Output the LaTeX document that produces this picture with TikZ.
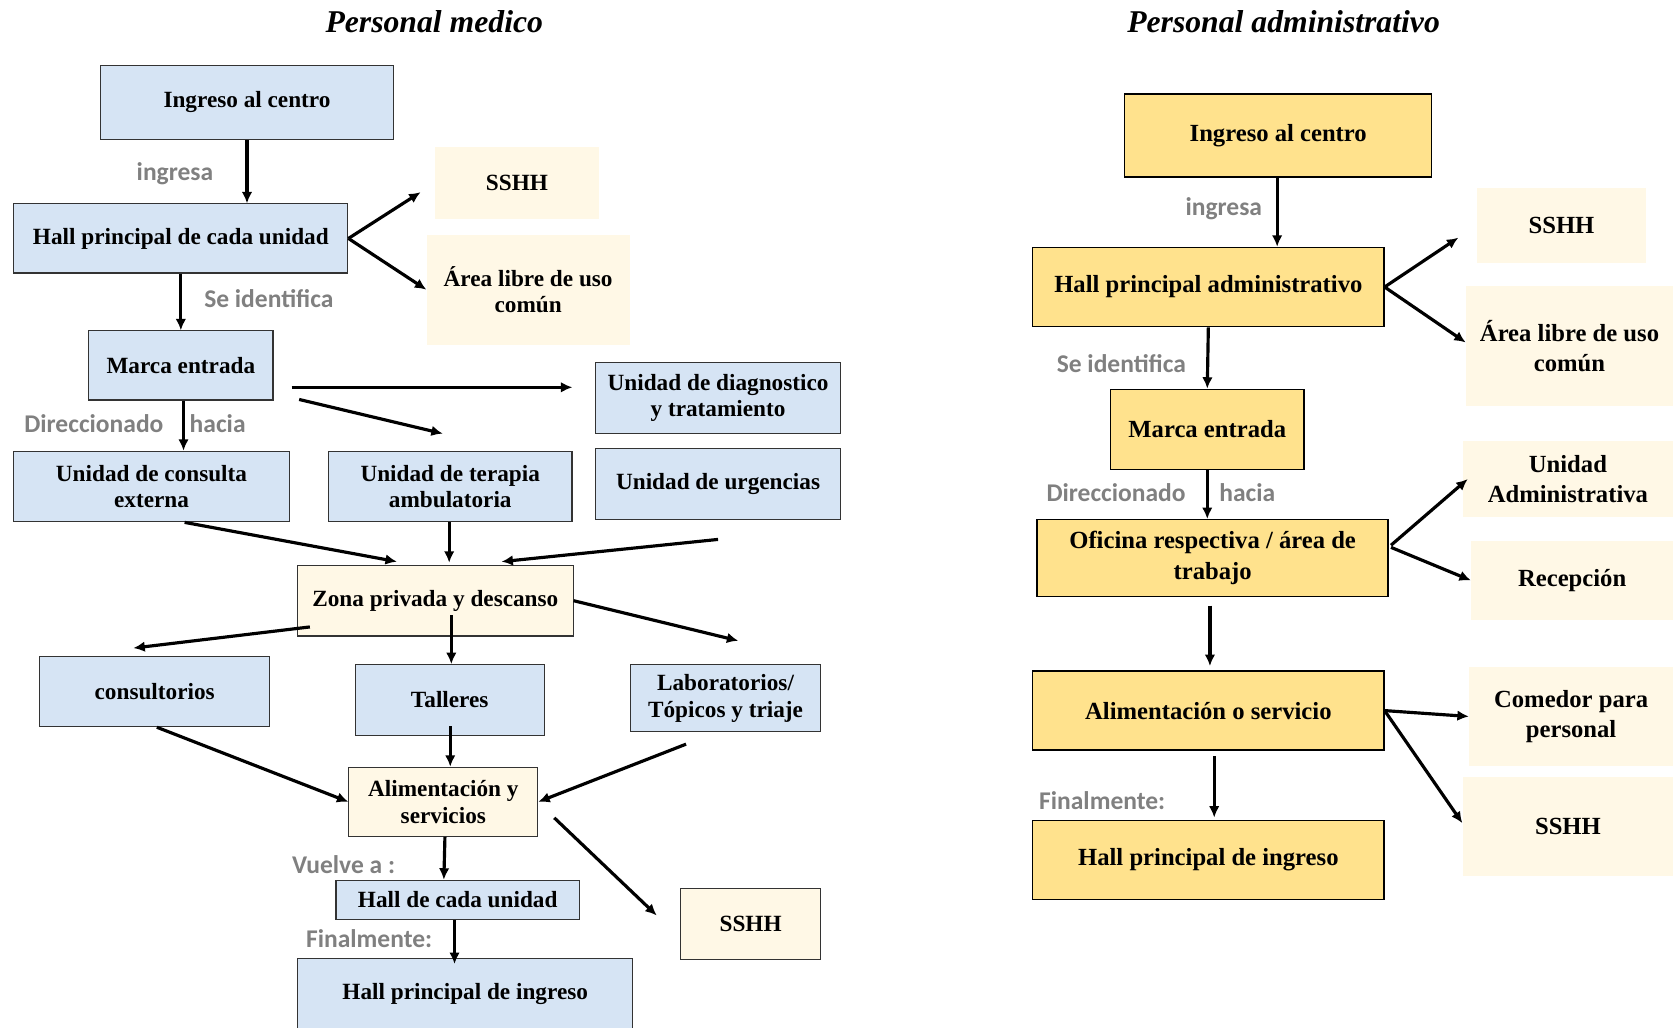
\documentclass[tikz,border=0pt]{standalone}
\usepackage{fontspec}
\setmainfont{Liberation Serif}
\newfontfamily\labelfont{Carlito}
\usepackage{tikz}
\usetikzlibrary{arrows.meta,calc}
\definecolor{medblue}{rgb}{0.839, 0.894, 0.957}
\definecolor{softcream}{rgb}{1, 0.973, 0.902}
\definecolor{admgold}{rgb}{1, 0.886, 0.553}
\definecolor{labgray}{rgb}{0.5, 0.5, 0.5}
\tikzstyle{bluebox}=[draw=black!80, line width=0.6pt, fill=medblue, align=center, inner sep=1pt, font=\bfseries\fontsize{13.2}{15.2}\selectfont]
\tikzstyle{creambox}=[bluebox, fill=softcream]
\tikzstyle{creamfree}=[fill=softcream, align=center, inner sep=1pt, font=\bfseries\fontsize{13.2}{15.2}\selectfont]
\tikzstyle{goldbox}=[draw=black, line width=0.8pt, fill=admgold, align=center, inner sep=1pt, font=\bfseries\fontsize{14}{18}\selectfont]
\tikzstyle{goldside}=[fill=softcream, align=center, inner sep=1pt, font=\bfseries\fontsize{14}{17}\selectfont]
\tikzstyle{steplabel}=[text=labgray, inner sep=0pt, font=\labelfont\bfseries\fontsize{14.5}{16}\selectfont]
\tikzstyle{flow}=[-{Latex[length=6.5pt,width=6pt]}, line width=1.8pt]

\begin{document}
\begin{tikzpicture}[x=0.0213cm, y=-0.0213cm]
\useasboundingbox (0,0) rectangle (1568,963);

\node[font=\bfseries\itshape\fontsize{18}{20}\selectfont] (tm) at (407,20) {Personal medico};
\node[font=\bfseries\itshape\fontsize{18}{20}\selectfont] (ta) at (1203,20) {Personal administrativo};

\node[bluebox, minimum width=5.86cm, minimum height=1.49cm] (ing) at (231.5,96) {Ingreso al centro};
\node[bluebox, minimum width=6.67cm, minimum height=1.38cm] (hall) at (169.5,223.5) {Hall principal de cada unidad};
\node[creamfree, minimum width=3.26cm, minimum height=1.43cm] (ssh) at (484.5,171.5) {SSHH};
\node[creamfree, minimum width=4.05cm, minimum height=2.19cm] (area) at (495,271.5) {Área libre de uso\\común};
\node[bluebox, minimum width=3.68cm, minimum height=1.38cm] (marca) at (169.5,342.5) {Marca entrada};
\node[bluebox, minimum width=4.90cm, minimum height=1.41cm] (diag) at (673,373) {Unidad de diagnostico\\y tratamiento};
\node[bluebox, minimum width=5.50cm, minimum height=1.41cm] (cons) at (142,456) {Unidad de consulta\\externa};
\node[bluebox, minimum width=4.86cm, minimum height=1.41cm] (terap) at (422,456) {Unidad de terapia\\ambulatoria};
\node[bluebox, minimum width=4.90cm, minimum height=1.43cm] (urg) at (673,453.5) {Unidad de urgencias};
\node[creambox, minimum width=5.50cm, minimum height=1.41cm] (zona) at (408,563) {Zona privada y descanso};
\node[bluebox, minimum width=4.60cm, minimum height=1.41cm] (consult) at (145,648) {consultorios};
\node[bluebox, minimum width=3.77cm, minimum height=1.41cm] (tall) at (421.5,656) {Talleres};
\node[bluebox, minimum width=3.79cm, minimum height=1.34cm] (lab) at (680,654.5) {Laboratorios/\\Tópicos y triaje};
\node[creambox, minimum width=3.77cm, minimum height=1.38cm] (alim) at (415.5,751.5) {Alimentación y\\servicios};
\node[bluebox, minimum width=4.86cm, minimum height=0.79cm] (hallcu) at (429,843.5) {Hall de cada unidad};
\node[creambox, minimum width=2.79cm, minimum height=1.41cm] (sshb) at (703.5,866) {SSHH};
\node[bluebox, minimum width=6.69cm, minimum height=1.45cm] (hallpi) at (436,932) {Hall principal de ingreso};

\node[steplabel] (l1) at (164,163) {ingresa};
\node[steplabel] (l2) at (252,280) {Se identifica};
\node[steplabel] (l3) at (88,397) {Direccionado};
\node[steplabel] (l4) at (204,397) {hacia};
\node[steplabel] (l5) at (322,810) {Vuelve a :};
\node[steplabel] (l6) at (346,880) {Finalmente:};

\draw[flow] (ing.south) -- (ing.south |- hall.north);
\draw[flow, shorten >=0.34cm] (hall.east) -- (ssh.west);
\draw[flow] (hall.east) -- (area.west);
\draw[flow] (hall.south) -- (marca.north);
\draw[flow] ($(marca.south)+(2.5,0)$) -- ($(marca.south |- cons.north)+(2.5,0)$);
\draw[flow] ($(marca.east)+(17,20.5)$) -- ($(diag.west)+(-21,-10)$);
\draw[flow] ($(marca.south east)+(24,-1)$) -- ($(terap.north)+(-7,-16)$);
\draw[flow] ($(cons.south)+(31,0)$) -- ($(zona.north)+(-36,-3)$);
\draw[flow] ($(terap.south)+(-1,0)$) -- ($(terap.south |- zona.north)+(-1,-2)$);
\draw[flow] ($(urg.south)+(0,18)$) -- ($(zona.north)+(62,-3)$);
\draw[flow] ($(zona.south west)+(12,-9)$) -- ($(consult.north)+(-20,-7)$);
\draw[flow] ($(tall.north)+(1.5,-46)$) -- ($(tall.north)+(1.5,0)$);
\draw[flow] (zona.east) -- ($(lab.north)+(12,-22)$);
\draw[flow] ($(consult.south)+(2,0)$) -- (alim.west);
\draw[flow] ($(tall.south)+(0.5,-9)$) -- ($(tall.south |- alim.north)+(0.5,0)$);
\draw[flow] ($(lab.south)+(-37,11)$) -- (alim.east);
\draw[flow] ($(alim.south)+(1.5,0)$) -- ($(alim.south |- hallcu.north)+(0.5,0)$);
\draw[flow] ($(alim.east)+(15,15)$) -- ($(sshb.west)+(-22,-8)$);
\draw[flow] ($(hallcu.south)+(-3,0)$) -- ($(hallpi.north)+(-10,6)$);

\node[goldbox, minimum width=6.13cm, minimum height=1.66cm] (ri) at (1198,127) {Ingreso al centro};
\node[goldbox, minimum width=7.01cm, minimum height=1.58cm] (rh) at (1132.5,269) {Hall principal administrativo};
\node[goldside, minimum width=3.39cm, minimum height=1.51cm] (rssh) at (1463.5,211.5) {SSHH};
\node[goldside, minimum width=4.13cm, minimum height=2.39cm] (rarea) at (1471,324) {Área libre de uso\\común};
\node[goldbox, minimum width=3.86cm, minimum height=1.60cm] (rmarca) at (1131.5,402.5) {Marca entrada};
\node[goldside, minimum width=4.20cm, minimum height=1.53cm] (radm) at (1469.5,449) {Unidad\\Administrativa};
\node[goldbox, minimum width=7.01cm, minimum height=1.53cm] (rofi) at (1136.5,523) {Oficina respectiva / área de\\trabajo};
\node[goldside, minimum width=4.03cm, minimum height=1.58cm] (rrec) at (1473.5,544) {Recepción};
\node[goldbox, minimum width=7.01cm, minimum height=1.58cm] (ralim) at (1132.5,666) {Alimentación o servicio};
\node[goldside, minimum width=4.07cm, minimum height=1.98cm] (rcom) at (1472.5,671.5) {Comedor para\\personal};
\node[goldside, minimum width=4.20cm, minimum height=1.98cm] (rsshb) at (1469.5,774.5) {SSHH};
\node[goldbox, minimum width=7.01cm, minimum height=1.58cm] (rhall) at (1132.5,806) {Hall principal de ingreso};

\node[steplabel] (r1) at (1147,196) {ingresa};
\node[steplabel] (r2) at (1051,341) {Se identifica};
\node[steplabel] (r3) at (1046,462) {Direccionado};
\node[steplabel] (r4) at (1169,462) {hacia};
\node[steplabel] (r5) at (1033,750) {Finalmente:};

\draw[flow] ($(ri.south)+(-1,0)$) -- ($(ri.south |- rh.north)+(-1,0)$);
\draw[flow, shorten >=0.43cm] (rh.east) -- (rssh.west);
\draw[flow] (rh.east) -- ($(rarea.west)+(0,-3)$);
\draw[flow] (rh.south) -- (rmarca.north);
\draw[flow] (rmarca.south) -- (rmarca.south |- rofi.north);
\draw[flow] ($(rofi.east)+(2,-12)$) -- ($(radm.west)+(5,0)$);
\draw[flow] ($(rofi.east)+(2,-10)$) -- (rrec.west);
\draw[flow] ($(rofi.south)+(-2.5,8)$) -- ($(ralim.north)+(1.5,-4)$);
\draw[flow] (ralim.east) -- (rcom.west);
\draw[flow] (ralim.east) -- ($(rsshb.west)+(0,-3)$);
\draw[flow] ($(ralim.south)+(5.5,5)$) -- ($(rhall.north)+(5.5,-2)$);

\end{tikzpicture}
\end{document}
